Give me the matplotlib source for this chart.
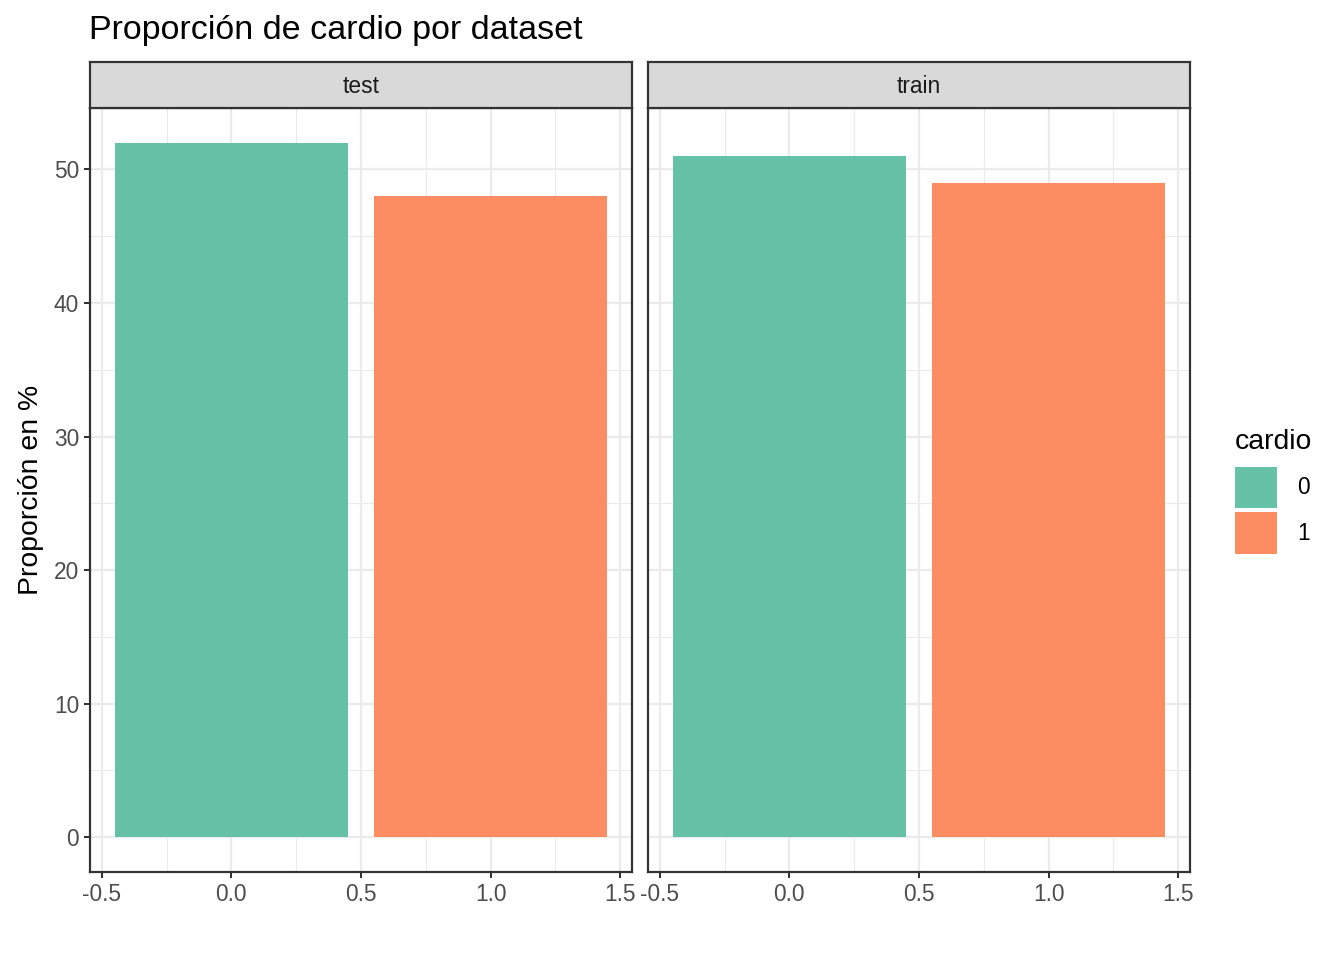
import matplotlib
matplotlib.use('Agg')
import matplotlib.pyplot as plt
from matplotlib.patches import Patch

plt.rcParams['font.family'] = ['Liberation Sans', 'DejaVu Sans']

# proporcion de cardio (%) por dataset
datasets = ['test', 'train']
cardio = [0, 1]
prop_test = [52.0, 48.0]
prop_train = [51.0, 49.0]
colores = ['#66C2A5', '#FC8D62']

W, H = 1344, 960
fig = plt.figure(figsize=(W / 144, H / 144), dpi=144)

def px_axes(x0, y0, x1, y1):
    return fig.add_axes([x0 / W, 1 - y1 / H, (x1 - x0) / W, (y1 - y0) / H])

panels = [(90, 632), (648, 1190)]
for i, (nombre, vals) in enumerate(zip(datasets, [prop_test, prop_train])):
    x0, x1 = panels[i]
    ax = px_axes(x0, 108, x1, 872)
    ax.set_axisbelow(True)
    ax.bar(cardio, vals, width=0.9, color=colores)
    ax.set_xlim(-0.545, 1.545)
    ax.set_ylim(-2.6, 54.6)
    ax.set_xticks([-0.5, 0.0, 0.5, 1.0, 1.5])
    ax.set_xticklabels(['-0.5', '0.0', '0.5', '1.0', '1.5'])
    ax.set_xticks([-0.25, 0.25, 0.75, 1.25], minor=True)
    ax.set_yticks([0, 10, 20, 30, 40, 50])
    ax.set_yticks([5, 15, 25, 35, 45], minor=True)
    ax.grid(which='major', color='#EBEBEB', linewidth=1.1)
    ax.grid(which='minor', color='#EBEBEB', linewidth=0.55)
    ax.tick_params(which='minor', length=0)
    ax.tick_params(which='major', length=3.0, width=1.0, color='#333333',
                   labelcolor='#4D4D4D', labelsize=11.4, pad=2.5)
    if i > 0:
        ax.tick_params(axis='y', left=False, labelleft=False)
    for s in ax.spines.values():
        s.set_color('#333333')
        s.set_linewidth(1.1)
    if i == 0:
        ax.set_ylabel('Proporción en %', fontsize=14.2, color='black', labelpad=5)

    sax = px_axes(x0, 62, x1, 108)
    sax.set_facecolor('#D9D9D9')
    sax.set_xticks([])
    sax.set_yticks([])
    for s in sax.spines.values():
        s.set_color('#333333')
        s.set_linewidth(1.1)
    sax.text(0.5, 0.47, nombre, ha='center', va='center', fontsize=11.4,
             color='#1A1A1A', transform=sax.transAxes)

fig.text(89 / W, 1 - 30 / H, 'Proporción de cardio por dataset', fontsize=17,
         ha='left', va='center')

handles = [Patch(facecolor=c, edgecolor='none', label=str(k)) for k, c in zip(cardio, colores)]
leg = fig.legend(handles=handles, title='cardio', loc='upper left',
                 bbox_to_anchor=(1230 / W, 1 - 424 / H), frameon=False,
                 fontsize=11.4, title_fontsize=14.2, handlelength=1.84, handleheight=2.45,
                 labelspacing=0.175, handletextpad=0.9, borderpad=0.2, borderaxespad=0)
leg._legend_box.align = 'left'
leg._legend_box.sep = 6

fig.savefig('out.png', dpi=144, facecolor='white')
